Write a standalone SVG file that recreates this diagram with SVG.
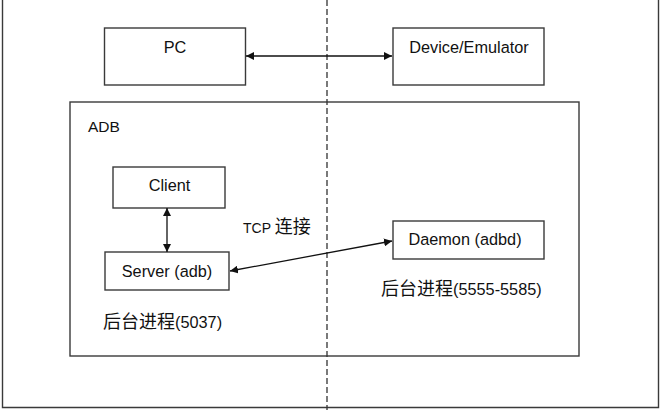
<svg xmlns="http://www.w3.org/2000/svg" width="661" height="410" viewBox="0 0 661 410">
<defs>
<style>
.box{fill:#fff;stroke:#3a3a3a;stroke-width:1.4}
.frame{fill:none;stroke:#3a3a3a;stroke-width:1.4}
.t{font-family:"Liberation Sans","Noto Sans CJK SC",sans-serif;font-size:16.3px;fill:#111}
.cjk{font-family:"Noto Sans CJK SC",sans-serif;font-size:18px}
.c{text-anchor:middle}
.ln{stroke:#111;stroke-width:1.3;fill:none}
</style>
<marker id="ah" viewBox="0 0 10 10" refX="10" refY="5" markerWidth="8" markerHeight="8" orient="auto-start-reverse" markerUnits="userSpaceOnUse">
<path d="M0,0 L10,5 L0,10 z" fill="#111"/>
</marker>
</defs>
<rect width="661" height="410" fill="#fff"/>
<path class="frame" d="M2.5,0 V407.5 H658.5 V0"/>
<g id="adb">
<rect class="box" x="70" y="102" width="509" height="254"/>
<text class="t" x="88" y="132" style="font-size:15.5px">ADB</text>
</g>
<g id="pc">
<rect class="box" x="104.5" y="28" width="141" height="57"/>
<text class="t c" x="175" y="53">PC</text>
</g>
<g id="device">
<rect class="box" x="393" y="28" width="151" height="57"/>
<text class="t c" x="469" y="53">Device/Emulator</text>
</g>
<g id="client">
<rect class="box" x="113" y="167" width="112" height="41"/>
<text class="t c" x="169.5" y="191">Client</text>
</g>
<g id="server">
<rect class="box" x="105" y="252" width="124" height="38"/>
<text class="t c" x="167" y="277">Server (adb)</text>
</g>
<g id="daemon">
<rect class="box" x="393" y="221" width="151" height="38"/>
<text class="t c" x="465" y="245">Daemon (adbd)</text>
</g>
<g id="labels">
<text class="t" x="243" y="233"><tspan style="font-size:14px">TCP </tspan><tspan class="cjk">连接</tspan></text>
<text class="t" x="103" y="328"><tspan class="cjk">后台进程</tspan>(5037)</text>
<text class="t" x="381" y="295"><tspan class="cjk">后台进程</tspan>(5555-5585)</text>
</g>
<g id="connectors">
<line x1="327" y1="0" x2="327" y2="410" stroke="#333" stroke-width="1.3" stroke-dasharray="6,3"/>
<line class="ln" x1="246" y1="56" x2="392" y2="56" marker-start="url(#ah)" marker-end="url(#ah)"/>
<line class="ln" x1="167" y1="208" x2="167" y2="252" marker-start="url(#ah)" marker-end="url(#ah)"/>
<line class="ln" x1="230" y1="271" x2="392" y2="241" marker-start="url(#ah)" marker-end="url(#ah)"/>
</g>
</svg>
